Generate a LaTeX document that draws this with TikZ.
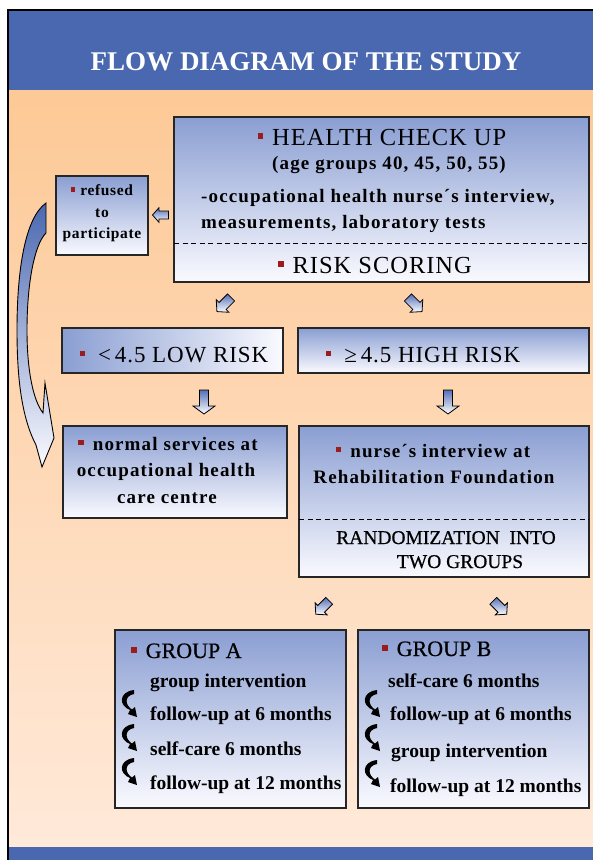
\documentclass[tikz,border=0pt]{standalone}
\usepackage{fontspec}
\setmainfont{Liberation Serif}
\newfontfamily\bsp[LetterSpace=6]{Liberation Serif}
\newfontfamily\ssp[LetterSpace=4]{Liberation Serif}
\newfontfamily\rsp[LetterSpace=4]{Liberation Serif}
\newfontfamily\hvy[FakeBold=0.6]{Liberation Serif}
\usetikzlibrary{arrows.meta,calc}
\definecolor{titleblue}{HTML}{4A68B0}
\definecolor{orangetop}{HTML}{FDC996}
\definecolor{orangebot}{HTML}{FFE9D9}
\definecolor{boxblue}{HTML}{8A9ED2}
\definecolor{boxwhite}{HTML}{FAFAFF}
\definecolor{bulred}{HTML}{9B1C1C}
\definecolor{arrblue}{HTML}{5570B8}
\newcommand\bul{{\color{bulred}\rule[0.25em]{5.5pt}{5.5pt}}\hspace{9pt}}
\begin{document}
\begin{tikzpicture}[x=1pt,y=-1pt,
  box/.style={draw=black!85, line width=1.1pt, top color=boxblue, bottom color=boxwhite, inner sep=0pt, outer sep=0pt, anchor=north west},
  lowbox/.style={box, left color=boxblue, right color=boxwhite},
  dashline/.style={line width=0.9pt, dash pattern=on 5pt off 3.5pt},
  capfont/.style={font=\rsp\fontsize{24.5}{26}\selectfont, inner sep=0pt},
  riskfont/.style={font=\rsp\fontsize{23}{26}\selectfont, inner sep=0pt},
  bodyfont/.style={font=\bsp\bfseries\fontsize{19}{21}\selectfont, inner sep=0pt},
  smallfont/.style={font=\ssp\bfseries\fontsize{15.5}{17}\selectfont, inner sep=0pt},
  grpfont/.style={font=\bfseries\fontsize{19.5}{22}\selectfont, inner sep=0pt, anchor=base west},
  grphead/.style={font=\hvy\fontsize{22}{24}\selectfont, inner sep=0pt, anchor=base west},
  randfont/.style={font=\hvy\fontsize{19.5}{22}\selectfont, inner sep=0pt},
  arrshade/.style={top color=arrblue, bottom color=white, draw=black, line width=0.8pt, line join=miter},
  downarr/.pic={\shade[arrshade] (-4.5,-12) -- (4.5,-12) -- (4.5,4) -- (11,4) -- (0,12) -- (-11,4) -- (-4.5,4) -- cycle;},
  stubarr/.pic={\shade[arrshade] (-5,-10) -- (5,-10) -- (5,2) -- (9,2) -- (0,10) -- (-9,2) -- (-5,2) -- cycle;},
  curvarr/.pic={\fill[black] (12,0) .. controls (-4,2) and (-3,16) .. (8,20) -- (6,24) -- (15,27) -- (13,17) -- (10,19.5) .. controls (3,15) and (2,6) .. (12,4) -- cycle;}
]
\useasboundingbox (0,0) rectangle (593,860);
\fill[white] (0,0) rectangle (593,860);
\shade[top color=orangetop, bottom color=orangebot] (8,90) rectangle (593,847);
\fill[titleblue] (8,10) rectangle (593,90);
\fill[titleblue] (8,847) rectangle (593,860);
\draw[line width=1.5pt] (8,860) -- (8,10) -- (593,10);

\node[text=white, font=\bfseries\fontsize{27}{30}\selectfont, anchor=base, inner sep=0pt] (title) at (306,70) {FLOW DIAGRAM OF THE STUDY};

% boxes
\node[box, minimum width=415pt, minimum height=165pt] (hc) at (174,117) {};
\node[box, minimum width=92pt, minimum height=79pt] (ref) at (56,176) {};
\node[lowbox, minimum width=221pt, minimum height=45pt] (low) at (62,328) {};
\node[box, minimum width=291pt, minimum height=45pt] (high) at (298,328) {};
\node[box, minimum width=224pt, minimum height=92pt] (norm) at (63,426) {};
\node[box, minimum width=290pt, minimum height=151pt] (nurse) at (299,426) {};
\node[box, minimum width=231pt, minimum height=178pt] (ga) at (115,630) {};
\node[box, minimum width=231pt, minimum height=178pt] (gb) at (358,630) {};

\draw[dashline] ($(hc.north west)+(0,126)$) -- ($(hc.north east)+(0,126)$);
\draw[dashline] ($(nurse.north west)+(0,93)$) -- ($(nurse.north east)+(0,93)$);

% health check texts
\node[capfont, anchor=base] (hct) at (382,145) {\bul HEALTH CHECK UP};
\node[bodyfont, anchor=base] (age) at (389,169) {(age groups 40, 45, 50, 55)};
\node[bodyfont, anchor=base west] (occ) at (201,202) {-occupational health nurse´s interview,};
\node[bodyfont, anchor=base west] (meas) at (201,228) {measurements, laboratory tests};
\node[capfont, anchor=base] (rs) at (375,273) {\bul RISK SCORING};

% refused
\node[smallfont, anchor=base] (r1) at (102,195) {{\color{bulred}\rule[0.2em]{4.5pt}{4.5pt}}\hspace{5pt}refused};
\node[smallfont, anchor=base] (r2) at (102,217) {to};
\node[smallfont, anchor=base] (r3) at (102,238) {participate};

% risk
\node[riskfont, anchor=base] (lt) at (174,362) {\bul\hspace{4pt}<\,4.5 LOW RISK};
\node[riskfont, anchor=base] (ht) at (423,362) {\bul\hspace{4pt}≥\,4.5 HIGH RISK};

% normal services
\node[bodyfont, anchor=base] (n1) at (168,450) {\bul normal services at};
\node[bodyfont, anchor=base] (n2) at (166,476) {occupational health};
\node[bodyfont, anchor=base] (n3) at (167,503) {care centre};

% nurse
\node[bodyfont, anchor=base] (u1) at (433,457) {\bul nurse´s interview at};
\node[bodyfont, anchor=base] (u2) at (434,483) {Rehabilitation Foundation};
\node[randfont, anchor=base] (u3) at (446,544) {RANDOMIZATION\ \ INTO};
\node[randfont, anchor=base] (u4) at (460,568) {TWO GROUPS};

% group A
\node[grphead] (a0) at (131,658) {\bul GROUP A};
\node[grpfont] (a1) at (150,687) {group intervention};
\node[grpfont] (a2) at (150,720) {follow-up at 6 months};
\node[grpfont] (a3) at (150,755) {self-care 6 months};
\node[grpfont] (a4) at (150,789) {follow-up at 12 months};

% group B
\node[grphead] (b0) at (382,656) {\bul GROUP B};
\node[grpfont] (b1) at (388,687) {self-care 6 months};
\node[grpfont] (b2) at (390,720) {follow-up at 6 months};
\node[grpfont] (b3) at (391,757) {group intervention};
\node[grpfont] (b4) at (390,792) {follow-up at 12 months};

% block arrows
\pic[rotate=-90, scale=0.8] at (160.5,215) {stubarr};
\pic[rotate=-45] at (224,304.5) {stubarr};
\pic[rotate=45] at (415,304.5) {stubarr};
\pic at (204,402) {downarr};
\pic at (448,402) {downarr};
\pic[rotate=-45, scale=0.95] at (322.5,607.5) {stubarr};
\pic[rotate=45, scale=0.95] at (500,607.5) {stubarr};

% curved small arrows
\pic at (122,690) {curvarr};
\pic at (122,724) {curvarr};
\pic at (122,758) {curvarr};
\pic at (365,690) {curvarr};
\pic at (365,724) {curvarr};
\pic at (365,760) {curvarr};

% big curved arrow
\shade[top color=titleblue, bottom color=boxwhite, draw=black, line width=0.9pt, line join=miter]
  (46,203) -- (46,233)
  .. controls (34,245) and (27,285) .. (27,330)
  .. controls (27,370) and (33,400) .. (43,413)
  -- (45,383) -- (54,438) -- (42,467) -- (36,445)
  .. controls (22,418) and (17,380) .. (17,330)
  .. controls (17,270) and (25,218) .. (46,203) -- cycle;
\end{tikzpicture}
\end{document}
